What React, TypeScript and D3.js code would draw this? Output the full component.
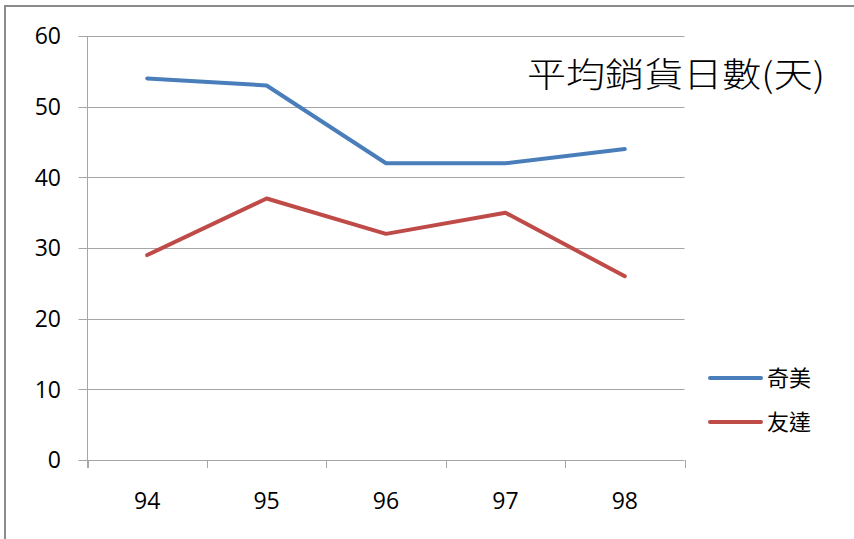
import React, { useEffect, useRef } from 'react';
import * as d3 from 'd3';

const years: string[] = ['94', '95', '96', '97', '98'];
const chimei: number[] = [54, 53, 42, 42, 44];
const youda: number[] = [29, 37, 32, 35, 26];
const yTicks: number[] = [0, 10, 20, 30, 40, 50, 60];
const seriesNames: string[] = ['奇美', '友達'];
const seriesColors: string[] = ['#4a7ebb', '#be4b48'];

const App: React.FC = () => {
  const svgRef = useRef<SVGSVGElement | null>(null);

  useEffect(() => {
    if (!svgRef.current) return;
    const svg = d3.select(svgRef.current);
    svg.selectAll('*').remove();

    const left = 87.5;
    const right = 684.5;
    const top = 36;
    const bottom = 460;

    // outer frame (only top and left edges visible)
    svg.append('path')
      .attr('d', 'M5,540 L5,6 L860,6')
      .attr('fill', 'none')
      .attr('stroke', '#8c8c8c')
      .attr('stroke-width', 2);

    const x = d3.scaleBand<string>().domain(years).range([left, right]);
    const y = d3.scaleLinear().domain([0, 60]).range([bottom, top]);

    const grid = svg.append('g');
    yTicks.forEach(t => {
      grid.append('line')
        .attr('x1', left - 9).attr('x2', right)
        .attr('y1', Math.round(y(t)) + 0.5).attr('y2', Math.round(y(t)) + 0.5)
        .attr('stroke', '#a6a6a6').attr('stroke-width', 1);
      grid.append('text')
        .attr('x', 61).attr('y', y(t))
        .attr('dy', '0.36em')
        .attr('text-anchor', 'end')
        .attr('font-family', 'Open Sans')
        .attr('font-size', '23px')
        .attr('fill', '#000')
        .text(t);
    });

    // y axis line
    grid.append('line')
      .attr('x1', left).attr('x2', left)
      .attr('y1', top).attr('y2', bottom + 8)
      .attr('stroke', '#a6a6a6');

    // x category ticks
    const edges = years.map(d => x(d) as number).concat([right]);
    edges.forEach(e => {
      grid.append('line')
        .attr('x1', Math.round(e) + 0.5).attr('x2', Math.round(e) + 0.5)
        .attr('y1', bottom).attr('y2', bottom + 8)
        .attr('stroke', '#a6a6a6');
    });

    years.forEach(d => {
      grid.append('text')
        .attr('x', (x(d) as number) + x.bandwidth() / 2)
        .attr('y', 501)
        .attr('dy', '0.36em')
        .attr('text-anchor', 'middle')
        .attr('font-family', 'Open Sans')
        .attr('font-size', '23px')
        .attr('fill', '#000')
        .text(d);
    });

    const line = d3.line<number>()
      .x((_, i) => (x(years[i]) as number) + x.bandwidth() / 2)
      .y(v => y(v));

    [chimei, youda].forEach((s, i) => {
      svg.append('path')
        .datum(s)
        .attr('d', line)
        .attr('fill', 'none')
        .attr('stroke', seriesColors[i])
        .attr('stroke-width', 4)
        .attr('stroke-linejoin', 'round')
        .attr('stroke-linecap', 'round');
    });

    // title
    svg.append('text')
      .attr('x', 527).attr('y', 87)
      .attr('font-family', 'Noto Sans CJK TC')
      .attr('font-weight', 300)
      .attr('font-size', '34px')
      .attr('fill', '#000')
      .attr('textLength', 298)
      .attr('lengthAdjust', 'spacingAndGlyphs')
      .text('平均銷貨日數(天)');

    // legend
    seriesNames.forEach((n, i) => {
      const ly = 378 + i * 44;
      svg.append('line')
        .attr('x1', 710).attr('x2', 761)
        .attr('y1', ly).attr('y2', ly)
        .attr('stroke', seriesColors[i])
        .attr('stroke-width', 4)
        .attr('stroke-linecap', 'round');
      svg.append('text')
        .attr('x', 767).attr('y', ly)
        .attr('dy', '0.36em')
        .attr('font-family', 'Noto Sans CJK TC')
        .attr('font-size', '22px')
        .attr('fill', '#000')
        .text(n);
    });
  }, []);

  return (
    <svg ref={svgRef} width={854} height={539}
      style={{ position: 'absolute', left: 0, top: 0, background: '#fff' }} />
  );
};

export default App;
